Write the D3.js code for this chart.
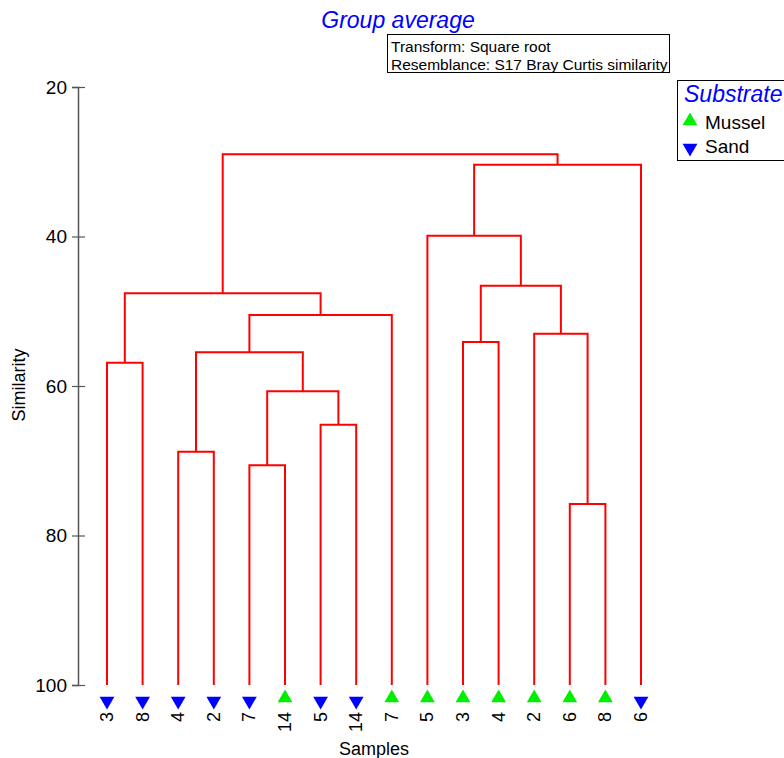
<!DOCTYPE html>
<html>
<head>
<meta charset="utf-8">
<script src="https://cdn.jsdelivr.net/npm/d3@7"></script>
<style>
body { margin: 0; background: #fff; }
text { font-family: "Liberation Sans", Arial, sans-serif; }
</style>
</head>
<body>
<div id="vis"></div>
<script>
// leaf order as drawn, left to right
var leafLabels = ["3", "8", "4", "2", "7", "14", "5", "14", "7", "5", "3", "4", "2", "6", "8", "6"];
var leafGroups = ["Sand", "Sand", "Sand", "Sand", "Sand", "Mussel", "Sand", "Sand",
                  "Mussel", "Mussel", "Mussel", "Mussel", "Mussel", "Mussel", "Mussel", "Sand"];

// merges: [left node, right node, similarity]; new nodes numbered from 16
var mergeLeft  = [13, 4, 2, 6, 17, 0, 18, 10, 12, 22, 21, 23, 9, 28, 26];
var mergeRight = [14, 5, 3, 7, 19, 1, 20, 11, 16, 8, 25, 24, 27, 15, 29];
var mergeSim   = [75.8, 70.6, 68.8, 65.2, 60.7, 56.9, 55.5, 54.1, 53.0, 50.5, 47.6, 46.6, 39.9, 30.4, 29.0];

var yTicks = [20, 40, 60, 80, 100];
var groups = ["Mussel", "Sand"];

var width = 784, height = 758;

var svg = d3.select("#vis")
    .append("svg")
    .attr("width", width)
    .attr("height", height);

var x_scale = d3.scalePoint()
    .domain(d3.range(leafLabels.length))
    .range([107, 641]);

var y_scale = d3.scaleLinear()
    .domain([20, 100])
    .range([87, 685]);

var colour = d3.scaleOrdinal().domain(groups).range(["#00ee00", "#0000ff"]);

// node positions
var nodeX = [], nodeY = [];
leafLabels.forEach(function (d, i) {
    nodeX[i] = x_scale(i);
    nodeY[i] = y_scale(100);
});

var links = [];
mergeSim.forEach(function (s, k) {
    var id = leafLabels.length + k;
    var a = mergeLeft[k], b = mergeRight[k];
    var y = y_scale(s);
    nodeX[id] = (nodeX[a] + nodeX[b]) / 2;
    nodeY[id] = y;
    links.push("M" + nodeX[a] + "," + nodeY[a] + "V" + y + "H" + nodeX[b] + "V" + nodeY[b]);
});

// axis
var yAxis = svg.append("g")
    .attr("transform", "translate(78,0)")
    .call(d3.axisLeft(y_scale).tickValues(yTicks).tickSizeOuter(0).tickSize(6).tickPadding(5));

yAxis.select(".domain").attr("stroke", "#555").attr("stroke-width", 1.5);
yAxis.selectAll(".tick line").attr("stroke", "#555").attr("stroke-width", 1.2).attr("x1", 7);
yAxis.selectAll(".tick text")
    .style("font-family", "'Liberation Sans', Arial, sans-serif")
    .style("font-size", "19px")
    .attr("fill", "#000");

svg.append("text")
    .attr("transform", "translate(25,385) rotate(-90)")
    .attr("text-anchor", "middle")
    .style("font-size", "18px")
    .text("Similarity");

svg.append("text")
    .attr("x", 374)
    .attr("y", 755)
    .attr("text-anchor", "middle")
    .style("font-size", "18px")
    .text("Samples");

// dendrogram branches
svg.append("g")
    .selectAll("path")
    .data(links)
    .enter()
    .append("path")
    .attr("d", function (d) { return d; })
    .attr("fill", "none")
    .attr("stroke", "#ff0000")
    .attr("stroke-width", 2);

// leaf markers
var up = d3.symbol().type(d3.symbolTriangle).size(95);

svg.append("g")
    .selectAll("path")
    .data(leafGroups)
    .enter()
    .append("path")
    .attr("d", up)
    .attr("transform", function (d, i) {
        return "translate(" + x_scale(i) + "," + (d === "Mussel" ? 698 : 701) + ")" + (d === "Sand" ? " rotate(180)" : "");
    })
    .attr("fill", function (d) { return colour(d); });

// leaf labels
svg.append("g")
    .selectAll("text")
    .data(leafLabels)
    .enter()
    .append("text")
    .attr("transform", function (d, i) {
        return "translate(" + (x_scale(i) + 6) + ",712) rotate(-90)";
    })
    .attr("text-anchor", "end")
    .style("font-size", "18px")
    .text(function (d) { return d; });

// title
svg.append("text")
    .attr("x", 398)
    .attr("y", 28)
    .attr("text-anchor", "middle")
    .attr("fill", "#0000ff")
    .style("font-size", "23px")
    .style("font-style", "italic")
    .text("Group average");

// info box
svg.append("rect")
    .attr("x", 387.5).attr("y", 34.5)
    .attr("width", 282).attr("height", 38)
    .attr("fill", "#fff").attr("stroke", "#000").attr("stroke-width", 1);

svg.append("text").attr("x", 391).attr("y", 52).style("font-size", "15.5px").text("Transform: Square root");
svg.append("text").attr("x", 391).attr("y", 70).style("font-size", "15.5px").text("Resemblance: S17 Bray Curtis similarity");

// legend
svg.append("rect")
    .attr("x", 677.5).attr("y", 80.5)
    .attr("width", 120).attr("height", 80)
    .attr("fill", "#fff").attr("stroke", "#000").attr("stroke-width", 1);

svg.append("text")
    .attr("x", 684).attr("y", 102)
    .attr("fill", "#0000ff")
    .style("font-size", "23px")
    .style("font-style", "italic")
    .text("Substrate");

var leg = svg.append("g")
    .selectAll("g")
    .data(groups)
    .enter()
    .append("g")
    .attr("transform", function (d, i) { return "translate(0," + (123 + i * 24) + ")"; });

leg.append("path")
    .attr("d", up)
    .attr("transform", function (d) { return "translate(690," + (d === "Sand" ? 1 : -2) + ")" + (d === "Sand" ? " rotate(180)" : ""); })
    .attr("fill", function (d) { return colour(d); });

leg.append("text")
    .attr("x", 705).attr("y", 6)
    .style("font-size", "19px")
    .text(function (d) { return d; });
</script>
</body>
</html>
